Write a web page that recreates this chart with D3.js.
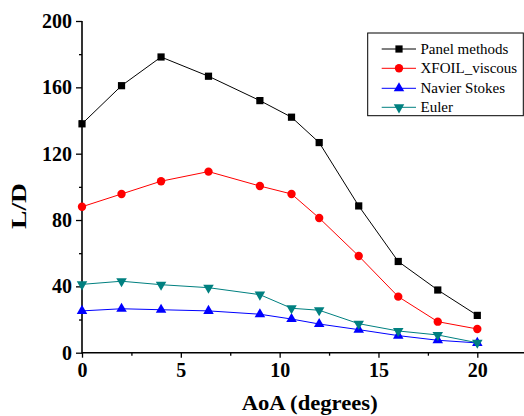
<!DOCTYPE html>
<html><head><meta charset="utf-8">
<script src="https://cdn.jsdelivr.net/npm/d3@7"></script>
<style>
svg text { font-family: "Liberation Serif" !important; }
</style>
</head>
<body style="margin:0;padding:0;background:#fff">
<script>
const aoa = [0, 2, 4, 6.4, 9, 10.6, 12, 14, 16, 18, 20];
const panelMethods = [138, 161, 178.3, 166.7, 152, 142, 126.7, 88.5, 55, 37.8, 22.5];
const xfoilViscous = [88, 95.7, 103.4, 109.2, 100.5, 95.7, 81.2, 58.3, 33.8, 18.7, 14.3];
const navierStokes = [25.2, 26.5, 25.9, 25.2, 23.2, 20.3, 17.3, 13.9, 10.3, 7.5, 5.9];
const euler = [41.2, 43.1, 41.0, 39.2, 35.0, 26.8, 25.6, 17.5, 13.1, 10.7, 6.0];
const seriesNames = ["Panel methods", "XFOIL_viscous", "Navier Stokes", "Euler"];
const seriesColors = ["#000000", "#ff0000", "#0000ff", "#008080"];
const seriesSymbols = ["square", "circle", "triangleUp", "triangleDown"];
const xTicks = [0, 5, 10, 15, 20];
const xMinorTicks = [2.5, 7.5, 12.5, 17.5];
const yTicks = [0, 40, 80, 120, 160, 200];
const yMinorTicks = [20, 60, 100, 140, 180];
const xTitle = "AoA (degrees)";
const yTitle = "L/D";

const FONT = "Liberation Serif";
const W = 524, H = 416;
const x = d3.scaleLinear().domain([0, 20]).range([82, 477.3]);
const y = d3.scaleLinear().domain([0, 200]).range([352.7, 21]);

const svg = d3.select("body").append("svg").attr("width", W).attr("height", H)
  .attr("font-family", FONT).style("display", "block");

svg.append("line").attr("x1", x(0)).attr("x2", W).attr("y1", y(0)).attr("y2", y(0))
  .attr("stroke", "#000").attr("stroke-width", 1.6);
svg.append("line").attr("x1", x(0)).attr("x2", x(0)).attr("y1", y(0) + 0.8).attr("y2", y(200))
  .attr("stroke", "#000").attr("stroke-width", 1.6);

function styleAxis(g) {
  g.select(".domain").remove();
  g.attr("font-family", FONT);
  g.selectAll("line").attr("stroke-width", 1.3);
  g.selectAll("text").attr("font-size", 20).attr("font-weight", "bold").attr("fill", "#000")
    .attr("font-family", FONT).style("font-family", FONT);
}

const xAxis = svg.append("g").attr("transform", `translate(0,${y(0)})`)
  .call(d3.axisBottom(x).tickValues(xTicks).tickSize(5).tickSizeOuter(0).tickPadding(5).tickFormat(d3.format("d")));
styleAxis(xAxis);
const xMinor = svg.append("g").attr("transform", `translate(0,${y(0)})`)
  .call(d3.axisBottom(x).tickValues(xMinorTicks).tickSize(3).tickSizeOuter(0).tickFormat(""));
styleAxis(xMinor);

const yAxis = svg.append("g").attr("transform", `translate(${x(0)},0)`)
  .call(d3.axisLeft(y).tickValues(yTicks).tickSize(6).tickSizeOuter(0).tickPadding(4).tickFormat(d3.format("d")));
styleAxis(yAxis);
const yMinor = svg.append("g").attr("transform", `translate(${x(0)},0)`)
  .call(d3.axisLeft(y).tickValues(yMinorTicks).tickSize(3).tickSizeOuter(0).tickFormat(""));
styleAxis(yMinor);

svg.append("text").attr("x", 309.7).attr("y", 409.5).attr("text-anchor", "middle")
  .attr("font-size", 20).attr("font-weight", "bold").attr("textLength", 136).attr("lengthAdjust", "spacingAndGlyphs")
  .style("font-family", FONT).text(xTitle);
svg.append("text").attr("transform", "translate(25.5,206) rotate(-90)").attr("text-anchor", "middle")
  .attr("font-size", 21).attr("font-weight", "bold").attr("textLength", 46).attr("lengthAdjust", "spacingAndGlyphs")
  .style("font-family", FONT).text(yTitle);

const symMap = {square: d3.symbolSquare, circle: d3.symbolCircle, triangleUp: d3.symbolTriangle, triangleDown: d3.symbolTriangle};
const symSize = {square: 52, circle: 55, triangleUp: 48, triangleDown: 48};
function marker(g, type, color) {
  const p = g.append("path").attr("d", d3.symbol().type(symMap[type]).size(symSize[type])()).attr("fill", color);
  if (type === "triangleDown") p.attr("transform", "rotate(180)");
  return p;
}

const allData = [panelMethods, xfoilViscous, navierStokes, euler];
const line = d3.line().x((d, i) => x(aoa[i])).y(d => y(d));
allData.forEach((vals, s) => {
  const g = svg.append("g");
  g.append("path").datum(vals).attr("d", line).attr("fill", "none").attr("stroke", seriesColors[s]).attr("stroke-width", 1);
  vals.forEach((v, i) => {
    const mg = g.append("g").attr("transform", `translate(${x(aoa[i])},${y(v)})`);
    marker(mg, seriesSymbols[s], seriesColors[s]);
  });
});

const lg = svg.append("g");
lg.append("rect").attr("x", 367.7).attr("y", 33).attr("width", 155.6).attr("height", 82.7)
  .attr("fill", "#fff").attr("stroke", "#000").attr("stroke-width", 1);
const rowY = [49, 68.3, 88.3, 107.3];
seriesNames.forEach((name, s) => {
  lg.append("line").attr("x1", 381.7).attr("x2", 416).attr("y1", rowY[s]).attr("y2", rowY[s])
    .attr("stroke", seriesColors[s]).attr("stroke-width", 1);
  const mg = lg.append("g").attr("transform", `translate(399,${rowY[s]})`);
  marker(mg, seriesSymbols[s], seriesColors[s]);
  lg.append("text").attr("x", 420.5).attr("y", rowY[s] + 5).attr("font-size", 15).attr("fill", "#000")
    .style("font-family", FONT).text(name);
});
</script>
</body></html>
